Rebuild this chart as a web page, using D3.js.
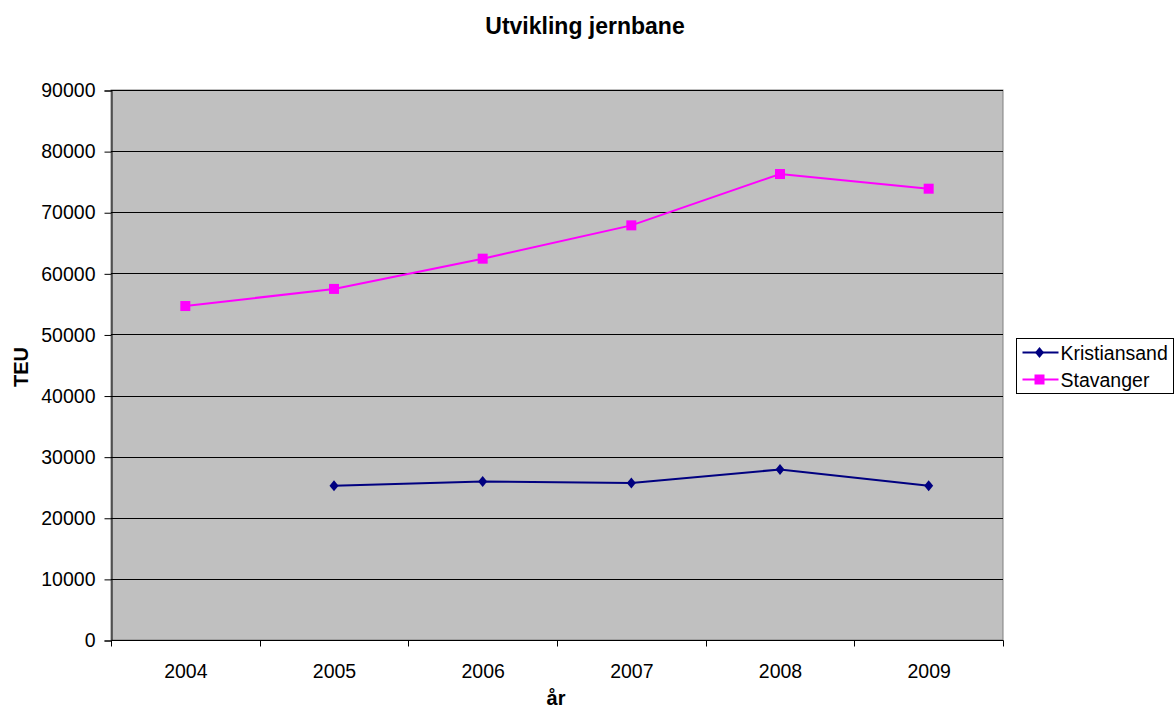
<!DOCTYPE html>
<html>
<head>
<meta charset="utf-8">
<script src="https://cdn.jsdelivr.net/npm/d3@7"></script>
<style>
  html, body { margin: 0; padding: 0; background: #fff; }
  svg { display: block; font-family: "Liberation Sans", Arial, sans-serif; }
</style>
</head>
<body>
<svg id="chart" width="1176" height="711"></svg>
<script>
// Container traffic by rail (TEU), per year
const years = ["2004", "2005", "2006", "2007", "2008", "2009"];
const kristiansand = [null, 25250, 25950, 25700, 27900, 25250];
const stavanger = [54650, 57450, 62400, 67850, 76250, 73850];
const yTicks = [0, 10000, 20000, 30000, 40000, 50000, 60000, 70000, 80000, 90000];

const seriesList = [
  { name: "Kristiansand", values: kristiansand, color: "#000080", marker: "diamond" },
  { name: "Stavanger", values: stavanger, color: "#ff00ff", marker: "square" }
];

const FONT = 19.5;
const svg = d3.select("#chart");
const plot = { left: 111, right: 1003, top: 90, bottom: 640 };

const x = d3.scaleBand().domain(years).range([plot.left, plot.right]);
const y = d3.scaleLinear().domain([0, 90000]).range([plot.bottom, plot.top]);

// Plot background
svg.append("rect")
  .attr("x", plot.left).attr("y", plot.top)
  .attr("width", plot.right - plot.left).attr("height", plot.bottom - plot.top)
  .attr("fill", "#c0c0c0")
  .attr("stroke", "#808080").attr("stroke-width", 1);

// Horizontal gridlines
svg.append("g").selectAll("line")
  .data(yTicks.filter(d => d > 0))
  .join("line")
  .attr("x1", plot.left).attr("x2", plot.right)
  .attr("y1", d => Math.round(y(d)) + 0.5).attr("y2", d => Math.round(y(d)) + 0.5)
  .attr("stroke", "#000").attr("stroke-width", 1);

// Y axis
const yAxis = svg.append("g")
  .attr("transform", `translate(${plot.left + 0.5},0.5)`)
  .call(d3.axisLeft(y).tickValues(yTicks).tickFormat(d3.format("d")).tickSize(7).tickPadding(9));
yAxis.select(".domain").attr("stroke", "#000");
yAxis.selectAll("text").attr("font-size", FONT).attr("fill", "#000")
  .attr("font-family", "'Liberation Sans', Arial, sans-serif");

// X axis with ticks at category boundaries
const xAxisG = svg.append("g").attr("transform", `translate(0.5,${plot.bottom + 0.5})`);
xAxisG.append("line")
  .attr("x1", plot.left).attr("x2", plot.right)
  .attr("stroke", "#000");
const boundaries = years.map(d => x(d)).concat([plot.right]);
xAxisG.selectAll("line.tick")
  .data(boundaries)
  .join("line").attr("class", "tick")
  .attr("x1", d => Math.round(d)).attr("x2", d => Math.round(d))
  .attr("y1", 0).attr("y2", 6)
  .attr("stroke", "#000");
xAxisG.selectAll("text")
  .data(years)
  .join("text")
  .attr("x", d => x(d) + x.bandwidth() / 2)
  .attr("y", 37)
  .attr("text-anchor", "middle")
  .attr("font-size", FONT)
  .text(d => d);

// Series lines and markers
const line = d3.line()
  .defined(d => d.v != null)
  .x(d => x(d.year) + x.bandwidth() / 2)
  .y(d => y(d.v));

function drawMarker(g, type, color, cx, cy) {
  if (type === "square") {
    g.append("rect").attr("x", cx - 5).attr("y", cy - 5)
      .attr("width", 10).attr("height", 10).attr("fill", color);
  } else {
    g.append("path")
      .attr("d", `M${cx},${cy - 5.5}L${cx + 4.5},${cy}L${cx},${cy + 5.5}L${cx - 4.5},${cy}Z`)
      .attr("fill", color);
  }
}

seriesList.forEach(s => {
  const pts = years.map((yr, i) => ({ year: yr, v: s.values[i] }));
  svg.append("path")
    .datum(pts)
    .attr("d", line)
    .attr("fill", "none")
    .attr("stroke", s.color)
    .attr("stroke-width", 2);
  const mg = svg.append("g");
  pts.filter(p => p.v != null).forEach(p => {
    drawMarker(mg, s.marker, s.color, x(p.year) + x.bandwidth() / 2, y(p.v));
  });
});

// Title and axis titles
svg.append("text")
  .attr("x", 585).attr("y", 34)
  .attr("text-anchor", "middle")
  .attr("font-size", 23).attr("font-weight", "bold")
  .text("Utvikling jernbane");

svg.append("text")
  .attr("transform", `translate(28,367) rotate(-90)`)
  .attr("text-anchor", "middle")
  .attr("font-size", 20).attr("font-weight", "bold")
  .text("TEU");

svg.append("text")
  .attr("x", 556).attr("y", 705)
  .attr("text-anchor", "middle")
  .attr("font-size", 20).attr("font-weight", "bold")
  .text("år");

// Legend
const legend = svg.append("g").attr("transform", "translate(1016.5,338.5)");
legend.append("rect")
  .attr("width", 157).attr("height", 55)
  .attr("fill", "#fff").attr("stroke", "#000").attr("stroke-width", 1);
seriesList.forEach((s, i) => {
  const cy = 14 + i * 27;
  legend.append("line")
    .attr("x1", 6).attr("x2", 42).attr("y1", cy).attr("y2", cy)
    .attr("stroke", s.color).attr("stroke-width", 2);
  drawMarker(legend, s.marker, s.color, 23, cy);
  legend.append("text")
    .attr("x", 44).attr("y", cy + 7)
    .attr("font-size", FONT)
    .text(s.name);
});
</script>
</body>
</html>
